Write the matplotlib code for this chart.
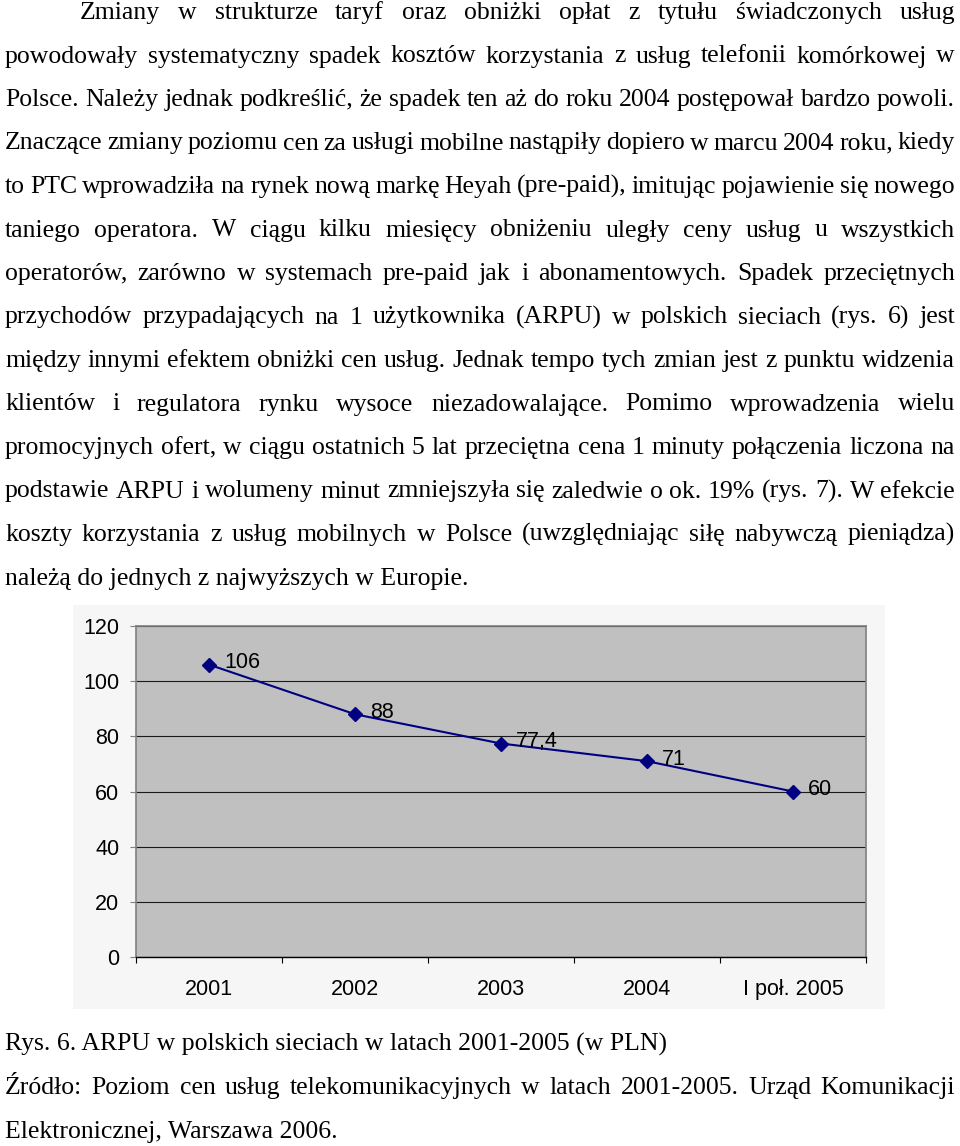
import matplotlib
matplotlib.use('Agg')
import matplotlib.pyplot as plt
from matplotlib.patches import Rectangle

# tekst strony
para_lines = [
    "Zmiany w strukturze taryf oraz obniżki opłat z tytułu świadczonych usług",
    "powodowały systematyczny spadek kosztów korzystania z usług telefonii komórkowej w",
    "Polsce. Należy jednak podkreślić, że spadek ten aż do roku 2004 postępował bardzo powoli.",
    "Znaczące zmiany poziomu cen za usługi mobilne nastąpiły dopiero w marcu 2004 roku, kiedy",
    "to PTC wprowadziła na rynek nową markę Heyah (pre-paid), imitując pojawienie się nowego",
    "taniego operatora. W ciągu kilku miesięcy obniżeniu uległy ceny usług u wszystkich",
    "operatorów, zarówno w systemach pre-paid jak i abonamentowych. Spadek przeciętnych",
    "przychodów przypadających na 1 użytkownika (ARPU) w polskich sieciach (rys. 6) jest",
    "między innymi efektem obniżki cen usług. Jednak tempo tych zmian jest z punktu widzenia",
    "klientów i regulatora rynku wysoce niezadowalające. Pomimo wprowadzenia wielu",
    "promocyjnych ofert, w ciągu ostatnich 5 lat przeciętna cena 1 minuty połączenia liczona na",
    "podstawie ARPU i wolumeny minut zmniejszyła się zaledwie o ok. 19% (rys. 7). W efekcie",
    "koszty korzystania z usług mobilnych w Polsce (uwzględniając siłę nabywczą pieniądza)",
    "należą do jednych z najwyższych w Europie.",
]
caption = "Rys. 6. ARPU w polskich sieciach w latach 2001-2005 (w PLN)"
source_lines = [
    "Źródło: Poziom cen usług telekomunikacyjnych w latach 2001-2005. Urząd Komunikacji",
    "Elektronicznej, Warszawa 2006.",
]

# dane wykresu
years = ["2001", "2002", "2003", "2004", "I poł. 2005"]
arpu = [106, 88, 77.4, 71, 60]
arpu_labels = ["106", "88", "77,4", "71", "60"]

W, H = 960, 1146
fig = plt.figure(figsize=(W / 100, H / 100), dpi=100)
page = fig.add_axes([0, 0, 1, 1])
page.set_xlim(0, W)
page.set_ylim(H, 0)
page.axis('off')

serif = 'Liberation Serif'
renderer = fig.canvas.get_renderer()


def word_width(w, size):
    t = page.text(0, 0, w, family=serif, fontsize=size)
    bb = t.get_window_extent(renderer)
    t.remove()
    return bb.width


# rozmiar czcionki dobrany do linii bez rozciągania
probe = page.text(0, 0, para_lines[2], family=serif, fontsize=10)
fs = 10 * 950 / probe.get_window_extent(renderer).width
probe.remove()


def justify(line, y, x0, x1, size):
    words = line.split(' ')
    widths = [word_width(w, size) for w in words]
    gap = (x1 - x0 - sum(widths)) / (len(words) - 1)
    x = x0
    for w, wd in zip(words, widths):
        page.text(x, y, w, family=serif, fontsize=size, va='baseline', ha='left')
        x += wd + gap


left, right = 5, 955
for i, line in enumerate(para_lines):
    y = 19 + 43.5 * i
    x0 = 80 if i == 0 else left
    if i == len(para_lines) - 1:
        page.text(x0, y, line, family=serif, fontsize=fs, va='baseline')
    else:
        justify(line, y, x0, right, fs)

page.text(left, 1051, caption, family=serif, fontsize=fs, va='baseline')
justify(source_lines[0], 1094, left, right, fs)
page.text(left, 1138, source_lines[1], family=serif, fontsize=fs, va='baseline')

# tło obszaru wykresu
page.add_patch(Rectangle((73, 605), 812, 404, facecolor='#f6f6f6', edgecolor='none', zorder=0))

# wykres
ax = fig.add_axes([136 / W, 1 - 957 / H, 730 / W, 331 / H])
ax.set_facecolor('#c0c0c0')
x = list(range(len(years)))
ax.plot(x, arpu, color='#000080', lw=1.5, marker='D', ms=7.5,
        markerfacecolor='#000080', markeredgecolor='#000080', zorder=3)
for xi, v, lab in zip(x, arpu, arpu_labels):
    ax.annotate(lab, (xi, v), xytext=(11, 1.5), textcoords='offset points',
                ha='left', va='center', fontsize=15.5, family='Liberation Sans')

ax.set_xlim(-0.5, len(years) - 0.5)
ax.set_ylim(0, 120)
ax.set_yticks(range(0, 121, 20))
ax.yaxis.grid(True, color='#1a1a1a', lw=0.8)
ax.set_axisbelow(True)
ax.set_xticks(x)
ax.set_xticklabels(years)
ax.set_xticks([i + 0.5 for i in range(-1, len(years))], minor=True)
ax.tick_params(axis='x', which='major', length=0, pad=16, labelsize=15.5)
ax.tick_params(axis='x', which='minor', length=4, color='black', width=0.8)
ax.tick_params(axis='y', length=4, color='#808080', pad=8, labelsize=15.5)
for lab in ax.get_xticklabels() + ax.get_yticklabels():
    lab.set_family('Liberation Sans')
for s in ['left', 'right', 'top']:
    ax.spines[s].set_color('#808080')
    ax.spines[s].set_linewidth(1.2)
ax.spines['bottom'].set_color('black')
ax.spines['bottom'].set_linewidth(1.0)

fig.savefig('out.png', dpi=100)
